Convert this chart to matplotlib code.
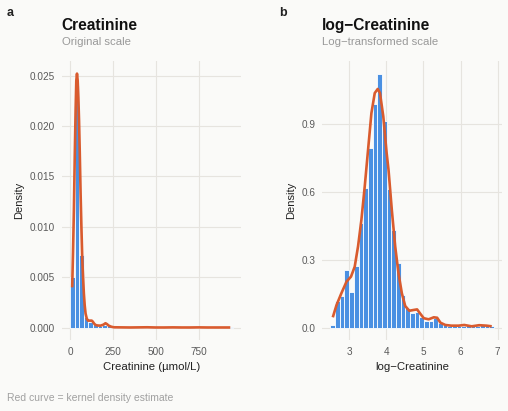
import numpy as np
import matplotlib.pyplot as plt

plt.rcParams['font.family'] = ['Liberation Sans', 'DejaVu Sans']

# histogram bins (35 bins, centres at min and max of the data)
raw_min, raw_max = 13.0, 934.0
log_min, log_max = 2.56, 6.84
n_bins = 35

raw_density = [0.0050, 0.0240, 0.0072, 0.0011, 0.0006, 0.00034, 0.0002, 0.00025,
               0.0002, 0.00005, 0.00003, 0.00002, 0.00003, 0.00002, 0.00002, 0.00002,
               0.00003, 0.00002, 0.00002, 0.00001, 0.00002, 0.00002, 0.00003, 0.00002,
               0.00001, 0.00002, 0.00002, 0.00001, 0.00002, 0.00002, 0.00001, 0.00002,
               0.00001, 0.00002, 0.00002]

log_density = [0.012, 0.120, 0.140, 0.256, 0.160, 0.273, 0.463, 0.618, 0.795, 0.990,
               1.125, 0.913, 0.613, 0.433, 0.285, 0.145, 0.086, 0.066, 0.071, 0.049,
               0.031, 0.031, 0.042, 0.022, 0.010, 0.008, 0.006, 0.006, 0.009, 0.010,
               0.006, 0.008, 0.010, 0.006, 0.006]

# kernel density estimates
raw_kde_x = [13, 18, 23, 28, 33, 37, 41, 45, 49, 53, 57, 62, 67, 72, 77, 81, 86, 91,
             98, 105, 113, 120, 127, 133, 141, 149, 160, 178, 195, 207, 216, 226, 240,
             255, 300, 350, 400, 450, 500, 550, 600, 650, 700, 750, 800, 850, 900, 934]
raw_kde_y = [0.0040, 0.0075, 0.0117, 0.0170, 0.0216, 0.0245, 0.0252, 0.0245, 0.0228,
             0.0205, 0.0175, 0.0133, 0.0098, 0.0067, 0.0048, 0.0034, 0.0022, 0.0014,
             0.0009, 0.0007, 0.0007, 0.0007, 0.0007, 0.0006, 0.0004, 0.00027, 0.00022,
             0.0002, 0.0003, 0.00044, 0.00035, 0.0002, 0.0001, 0.00004, 0.00003,
             0.00002, 0.00003, 0.00004, 0.00002, 0.00002, 0.00003, 0.00002, 0.00002,
             0.00003, 0.00002, 0.00002, 0.00002, 0.00002]

log_kde_x = [2.56, 2.66, 2.79, 2.93, 3.05, 3.15, 3.24, 3.33, 3.42, 3.51, 3.60, 3.69,
             3.77, 3.83, 3.92, 4.01, 4.06, 4.15, 4.24, 4.33, 4.42, 4.51, 4.62, 4.72,
             4.83, 4.92, 5.01, 5.14, 5.28, 5.37, 5.46, 5.59, 5.75, 5.95, 6.10, 6.30,
             6.50, 6.70, 6.84]
log_kde_y = [0.046, 0.100, 0.152, 0.204, 0.226, 0.270, 0.360, 0.477, 0.625, 0.788,
             0.950, 1.039, 1.057, 1.039, 0.935, 0.773, 0.700, 0.520, 0.360, 0.240,
             0.152, 0.096, 0.075, 0.078, 0.081, 0.061, 0.042, 0.037, 0.046, 0.044,
             0.022, 0.012, 0.009, 0.009, 0.012, 0.006, 0.011, 0.009, 0.006]

bg = '#FAFAF8'
blue = '#4A90E2'
red = '#D95B2E'
grid_c = '#E6E4DF'

fig = plt.figure(figsize=(5.08, 4.11), dpi=100, facecolor=bg)
ax1 = fig.add_axes([0.1215, 0.1718, 0.3524, 0.680])
ax2 = fig.add_axes([0.6344, 0.1718, 0.3543, 0.680])


def panel(ax, lo, hi, dens, kx, ky, xticks, yticks, yfmt):
    w = (hi - lo) / (n_bins - 1)
    centers = lo + w * np.arange(n_bins)
    ax.set_facecolor(bg)
    ax.bar(centers, dens, width=w, color=blue, edgecolor='white', linewidth=0.6, zorder=2)
    ax.plot(kx, ky, color=red, lw=1.9, zorder=3, solid_capstyle='butt')
    span = hi - lo + w
    ax.set_xlim(lo - w / 2 - 0.05 * span, hi + w / 2 + 0.05 * span)
    top = max(max(dens), max(ky))
    ax.set_ylim(-0.05 * top, 1.05 * top)
    ax.set_xticks(xticks)
    ax.set_yticks(yticks)
    ax.set_yticklabels([yfmt % v for v in yticks])
    ax.grid(True, color=grid_c, lw=0.8, zorder=0)
    ax.set_axisbelow(True)
    for s in ax.spines.values():
        s.set_visible(False)
    ax.tick_params(length=0, labelsize=7.2, labelcolor='#5A5A5A', pad=5)
    ax.set_ylabel('Density', fontsize=8, color='#222222', labelpad=4)


panel(ax1, raw_min, raw_max, raw_density, raw_kde_x, raw_kde_y,
      [0, 250, 500, 750], [0, 0.005, 0.010, 0.015, 0.020, 0.025], '%.3f')
panel(ax2, log_min, log_max, log_density, log_kde_x, log_kde_y,
      [3, 4, 5, 6, 7], [0, 0.3, 0.6, 0.9], '%.1f')

ax1.set_xlabel('Creatinine (µmol/L)', fontsize=8.2, color='#222222', labelpad=3)
ax2.set_xlabel('log\u2212Creatinine', fontsize=8.2, color='#222222', labelpad=3)

fig.text(61.7 / 508, 1 - 30 / 411, 'Creatinine', fontsize=11.2, fontweight='bold',
         color='#111111', va='baseline')
fig.text(61.7 / 508, 1 - 45 / 411, 'Original scale', fontsize=8.2, color='#999999',
         va='baseline')
fig.text(322.3 / 508, 1 - 30 / 411, 'log\u2212Creatinine', fontsize=11.2,
         fontweight='bold', color='#111111', va='baseline')
fig.text(322.3 / 508, 1 - 45 / 411, 'Log\u2212transformed scale', fontsize=8.2,
         color='#999999', va='baseline')
fig.text(7 / 508, 1 - 16 / 411, 'a', fontsize=9, fontweight='bold', color='#222222',
         va='baseline')
fig.text(279 / 508, 1 - 16 / 411, 'b', fontsize=9, fontweight='bold', color='#222222',
         va='baseline')
fig.text(7 / 508, 1 - 401 / 411, 'Red curve = kernel density estimate', fontsize=7.5,
         color='#A0A0A0', va='baseline')

fig.savefig('out.png', dpi=100, facecolor=bg)
